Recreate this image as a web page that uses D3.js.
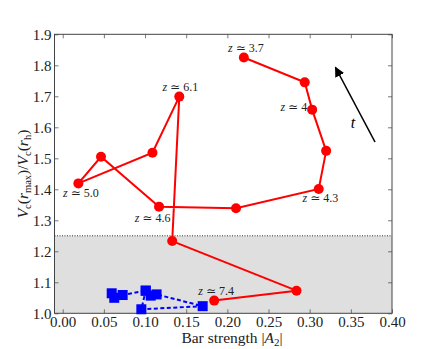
<!DOCTYPE html>
<html><head><meta charset="utf-8">
<script src="https://cdn.jsdelivr.net/npm/d3@7"></script>
<style>body{margin:0;background:#fff} svg text{font-family:"Liberation Serif","DejaVu Serif",serif;}</style>
</head><body>
<script>
const redX = [0.184, 0.284, 0.133, 0.1416, 0.109, 0.019, 0.0465, 0.117, 0.2105, 0.311, 0.320, 0.303, 0.294, 0.220];
const redY = [1.041, 1.073, 1.233, 1.699, 1.518, 1.419, 1.505, 1.344, 1.339, 1.401, 1.524, 1.657, 1.745, 1.825];
const blueX = [0.0595, 0.0626, 0.0728, 0.1008, 0.1069, 0.114, 0.170, 0.0955, 0.1008];
const blueY = [1.0645, 1.050, 1.059, 1.073, 1.057, 1.061, 1.023, 1.013, 1.073];
const xTicks = [0.00, 0.05, 0.10, 0.15, 0.20, 0.25, 0.30, 0.35, 0.40];
const yTicks = [1.0, 1.1, 1.2, 1.3, 1.4, 1.5, 1.6, 1.7, 1.8, 1.9];
const zLabels = [
  {i: 0, t: "7.4", dx: 2, dy: -6, anchor: "middle"},
  {i: 3, t: "6.1", dx: 1, dy: -6, anchor: "middle"},
  {i: 5, t: "5.0", dx: 2.5, dy: 13.5, anchor: "middle"},
  {i: 7, t: "4.6", dx: -6.5, dy: 15, anchor: "middle"},
  {i: 9, t: "4.3", dx: 1.6, dy: 13, anchor: "middle"},
  {i: 11, t: "4", dx: -5, dy: 1, anchor: "end"},
  {i: 13, t: "3.7", dx: 2, dy: -5.5, anchor: "middle"}
];
const shadeTop = 1.25;

const W = 436, H = 349;
const m = {l: 54.5, r: 392, t: 34.3, b: 313.3};
const svg = d3.select("body").append("svg").attr("width", W).attr("height", H);
const x = d3.scaleLinear().domain([-0.01, 0.40]).range([m.l, m.r]);
const y = d3.scaleLinear().domain([1.0, 1.9]).range([m.b, m.t]);

svg.append("rect").attr("x", x(-0.01)).attr("y", y(shadeTop))
  .attr("width", x(0.40) - x(-0.01)).attr("height", y(1.0) - y(shadeTop))
  .attr("fill", "#dfdfdf");
svg.append("line").attr("x1", x(-0.01)).attr("x2", x(0.40))
  .attr("y1", y(shadeTop)).attr("y2", y(shadeTop))
  .attr("stroke", "#000").attr("stroke-width", 0.8).attr("stroke-dasharray", "1,1.5");

const tl = 4;
const gB = svg.append("g").attr("transform", `translate(0,${m.b})`)
  .call(d3.axisBottom(x).tickValues(xTicks).tickFormat(d3.format(".2f")).tickSizeInner(-tl).tickSizeOuter(0).tickPadding(3));
const gT = svg.append("g").attr("transform", `translate(0,${m.t})`)
  .call(d3.axisTop(x).tickValues(xTicks).tickFormat("").tickSizeInner(-tl).tickSizeOuter(0));
const gL = svg.append("g").attr("transform", `translate(${m.l},0)`)
  .call(d3.axisLeft(y).tickValues(yTicks).tickFormat(d3.format(".1f")).tickSizeInner(-tl).tickSizeOuter(0).tickPadding(3));
const gR = svg.append("g").attr("transform", `translate(${m.r},0)`)
  .call(d3.axisRight(y).tickValues(yTicks).tickFormat("").tickSizeInner(-tl).tickSizeOuter(0));
[gB, gT, gL, gR].forEach(g => {
  g.attr("font-family", null);
  g.select(".domain").remove();
  g.selectAll(".tick line").attr("stroke", "#555").attr("stroke-width", 0.8);
  g.selectAll("text").attr("font-size", 15).attr("fill", "#222");
});
gB.selectAll(".tick text").attr("dy", "0.71em");
svg.append("rect").attr("x", m.l).attr("y", m.t).attr("width", m.r - m.l).attr("height", m.b - m.t)
  .attr("fill", "none").attr("stroke", "#444").attr("stroke-width", 1);

const blue = blueX.map((v, i) => [v, blueY[i]]);
svg.append("path").datum(blue)
  .attr("d", d3.line().x(d => x(d[0])).y(d => y(d[1])))
  .attr("fill", "none").attr("stroke", "#0000ff").attr("stroke-width", 2).attr("stroke-dasharray", "4,2.5");
svg.selectAll(".sq").data(blue).enter().append("rect")
  .attr("x", d => x(d[0]) - 5).attr("y", d => y(d[1]) - 5)
  .attr("width", 10).attr("height", 10).attr("fill", "#0000ff");

const red = redX.map((v, i) => [v, redY[i]]);
svg.append("path").datum(red)
  .attr("d", d3.line().x(d => x(d[0])).y(d => y(d[1])))
  .attr("fill", "none").attr("stroke", "#ff0000").attr("stroke-width", 2);
svg.selectAll(".pt").data(red).enter().append("circle")
  .attr("cx", d => x(d[0])).attr("cy", d => y(d[1])).attr("r", 5).attr("fill", "#ff0000");

zLabels.forEach(l => {
  const t = svg.append("text").attr("x", x(redX[l.i]) + l.dx).attr("y", y(redY[l.i]) + l.dy)
    .attr("text-anchor", l.anchor).attr("font-size", 12).attr("fill", "#222");
  t.append("tspan").attr("font-style", "italic").text("z");
  t.append("tspan").text(" \u2243 ");
  t.append("tspan").text(l.t);
});

svg.append("defs").append("marker").attr("id", "ah").attr("viewBox", "0 0 10 10")
  .attr("refX", 9).attr("refY", 5).attr("markerWidth", 10).attr("markerHeight", 10)
  .attr("markerUnits", "userSpaceOnUse").attr("orient", "auto")
  .append("path").attr("d", "M0,0 L10,5 L0,10 z").attr("fill", "#000");
svg.append("line").attr("x1", 375).attr("y1", 142).attr("x2", 335.5).attr("y2", 67.5)
  .attr("stroke", "#000").attr("stroke-width", 1.6).attr("marker-end", "url(#ah)");
svg.append("text").attr("x", 353).attr("y", 128).attr("text-anchor", "middle")
  .attr("font-style", "italic").attr("font-size", 16).text("t");

const xl = svg.append("text").attr("x", 232).attr("y", 343).attr("text-anchor", "middle")
  .attr("font-size", 15.5).attr("fill", "#222");
xl.append("tspan").text("Bar strength |");
xl.append("tspan").attr("font-style", "italic").text("A");
xl.append("tspan").attr("font-size", 11).attr("dy", 3).text("2");
xl.append("tspan").attr("dy", -3).text("|");

const yl = svg.append("text").attr("transform", "translate(28,174) rotate(-90)").attr("text-anchor", "middle")
  .attr("font-size", 15.5).attr("fill", "#222");
yl.append("tspan").attr("font-style", "italic").text("V");
yl.append("tspan").attr("font-size", 10.5).attr("dy", 2.5).text("c");
yl.append("tspan").attr("dy", -2.5).text("(");
yl.append("tspan").attr("font-style", "italic").text("r");
yl.append("tspan").attr("font-size", 10.5).attr("dy", 2.5).text("max");
yl.append("tspan").attr("dy", -2.5).text(")/");
yl.append("tspan").attr("font-style", "italic").text("V");
yl.append("tspan").attr("font-size", 10.5).attr("dy", 2.5).text("c");
yl.append("tspan").attr("dy", -2.5).text("(");
yl.append("tspan").attr("font-style", "italic").text("r");
yl.append("tspan").attr("font-size", 10.5).attr("dy", 2.5).text("h");
yl.append("tspan").attr("dy", -2.5).text(")");
</script>
</body></html>
